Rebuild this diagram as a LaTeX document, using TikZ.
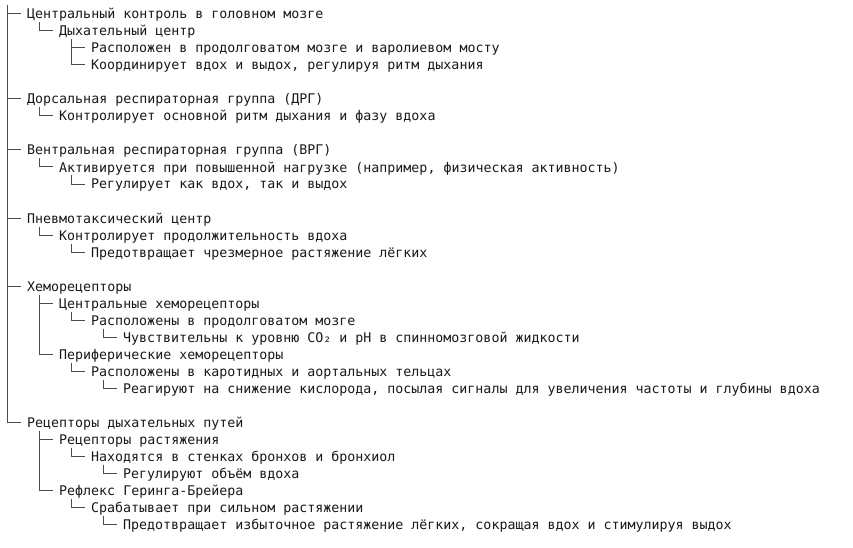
\documentclass[tikz,border=0pt]{standalone}
\usepackage{fontspec}
\setmonofont{DejaVu Sans Mono}
\tikzset{
  item/.style={anchor=base west, inner sep=0pt, text=black!90, font=\ttfamily\fontsize{13.3}{17}\selectfont},
  branch/.style={line width=1pt, black!70}
}
\begin{document}
\begin{tikzpicture}[x=1pt,y=1pt]
\useasboundingbox (0,0) rectangle (853,-548);
\coordinate (root) at (7,-5.5);
% level 0
\node[item] (c) at (27,-19) {Центральный контроль в головном мозге};
\node[item] (d) at (27,-104) {Дорсальная респираторная группа (ДРГ)};
\node[item] (v) at (27,-155) {Вентральная респираторная группа (ВРГ)};
\node[item] (p) at (27,-223) {Пневмотаксический центр};
\node[item] (h) at (27,-291) {Хеморецепторы};
\node[item] (r) at (27,-427) {Рецепторы дыхательных путей};
% level 1
\node[item] (c1) at (59,-36) {Дыхательный центр};
\node[item] (d1) at (59,-121) {Контролирует основной ритм дыхания и фазу вдоха};
\node[item] (v1) at (59,-172) {Активируется при повышенной нагрузке (например, физическая активность)};
\node[item] (p1) at (59,-240) {Контролирует продолжительность вдоха};
\node[item] (h1) at (59,-308) {Центральные хеморецепторы};
\node[item] (h2) at (59,-359) {Периферические хеморецепторы};
\node[item] (r1) at (59,-444) {Рецепторы растяжения};
\node[item] (r2) at (59,-495) {Рефлекс Геринга-Брейера};
% level 2
\node[item] (c11) at (91,-53) {Расположен в продолговатом мозге и варолиевом мосту};
\node[item] (c12) at (91,-70) {Координирует вдох и выдох, регулируя ритм дыхания};
\node[item] (v11) at (91,-189) {Регулирует как вдох, так и выдох};
\node[item] (p11) at (91,-257) {Предотвращает чрезмерное растяжение лёгких};
\node[item] (h11) at (91,-325) {Расположены в продолговатом мозге};
\node[item] (h21) at (91,-376) {Расположены в каротидных и аортальных тельцах};
\node[item] (r11) at (91,-461) {Находятся в стенках бронхов и бронхиол};
\node[item] (r21) at (91,-512) {Срабатывает при сильном растяжении};
% level 3
\node[item] (h111) at (123,-342) {Чувствительны к уровню CO₂ и pH в спинномозговой жидкости};
\node[item] (h211) at (123,-393) {Реагируют на снижение кислорода, посылая сигналы для увеличения частоты и глубины вдоха};
\node[item] (r111) at (123,-478) {Регулируют объём вдоха};
\node[item] (r211) at (123,-529) {Предотвращает избыточное растяжение лёгких, сокращая вдох и стимулируя выдох};
% branches from the top
\draw[branch](root)|-([xshift=-6pt,yshift=5pt]c.base west);
\draw[branch](root)|-([xshift=-6pt,yshift=5pt]d.base west);
\draw[branch](root)|-([xshift=-6pt,yshift=5pt]v.base west);
\draw[branch](root)|-([xshift=-6pt,yshift=5pt]p.base west);
\draw[branch](root)|-([xshift=-6pt,yshift=5pt]h.base west);
\draw[branch](root)|-([xshift=-6pt,yshift=5pt]r.base west);
% branches below each item
\draw[branch]([xshift=12pt,yshift=-3.5pt]c.base west)|-([xshift=-6pt,yshift=5pt]c1.base west);
\draw[branch]([xshift=12pt,yshift=-3.5pt]c1.base west)|-([xshift=-6pt,yshift=5pt]c11.base west);
\draw[branch]([xshift=12pt,yshift=-3.5pt]c1.base west)|-([xshift=-6pt,yshift=5pt]c12.base west);
\draw[branch]([xshift=12pt,yshift=-3.5pt]d.base west)|-([xshift=-6pt,yshift=5pt]d1.base west);
\draw[branch]([xshift=12pt,yshift=-3.5pt]v.base west)|-([xshift=-6pt,yshift=5pt]v1.base west);
\draw[branch]([xshift=12pt,yshift=-3.5pt]v1.base west)|-([xshift=-6pt,yshift=5pt]v11.base west);
\draw[branch]([xshift=12pt,yshift=-3.5pt]p.base west)|-([xshift=-6pt,yshift=5pt]p1.base west);
\draw[branch]([xshift=12pt,yshift=-3.5pt]p1.base west)|-([xshift=-6pt,yshift=5pt]p11.base west);
\draw[branch]([xshift=12pt,yshift=-3.5pt]h.base west)|-([xshift=-6pt,yshift=5pt]h1.base west);
\draw[branch]([xshift=12pt,yshift=-3.5pt]h.base west)|-([xshift=-6pt,yshift=5pt]h2.base west);
\draw[branch]([xshift=12pt,yshift=-3.5pt]h1.base west)|-([xshift=-6pt,yshift=5pt]h11.base west);
\draw[branch]([xshift=12pt,yshift=-3.5pt]h11.base west)|-([xshift=-6pt,yshift=5pt]h111.base west);
\draw[branch]([xshift=12pt,yshift=-3.5pt]h2.base west)|-([xshift=-6pt,yshift=5pt]h21.base west);
\draw[branch]([xshift=12pt,yshift=-3.5pt]h21.base west)|-([xshift=-6pt,yshift=5pt]h211.base west);
\draw[branch]([xshift=12pt,yshift=-3.5pt]r.base west)|-([xshift=-6pt,yshift=5pt]r1.base west);
\draw[branch]([xshift=12pt,yshift=-3.5pt]r.base west)|-([xshift=-6pt,yshift=5pt]r2.base west);
\draw[branch]([xshift=12pt,yshift=-3.5pt]r1.base west)|-([xshift=-6pt,yshift=5pt]r11.base west);
\draw[branch]([xshift=12pt,yshift=-3.5pt]r11.base west)|-([xshift=-6pt,yshift=5pt]r111.base west);
\draw[branch]([xshift=12pt,yshift=-3.5pt]r2.base west)|-([xshift=-6pt,yshift=5pt]r21.base west);
\draw[branch]([xshift=12pt,yshift=-3.5pt]r21.base west)|-([xshift=-6pt,yshift=5pt]r211.base west);
\end{tikzpicture}
\end{document}
